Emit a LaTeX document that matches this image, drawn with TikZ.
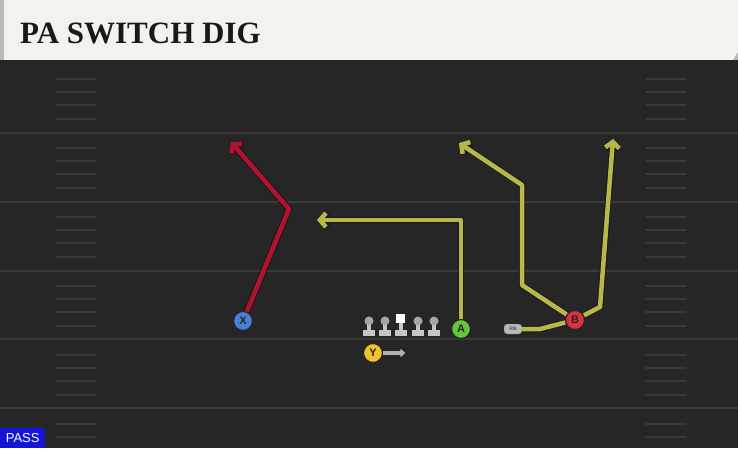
\documentclass[tikz,border=0pt]{standalone}
\usepackage{fontspec}
\usepackage{xcolor}
\usepackage{tikz}
\usetikzlibrary{arrows.meta}
\setmainfont{Liberation Sans}
\newfontfamily\titlefont{Liberation Serif}
\definecolor{field}{HTML}{262626}
\definecolor{header}{HTML}{F4F2EC}
\definecolor{yardline}{HTML}{3A3A3A}
\definecolor{routeyel}{HTML}{B8B84A}
\definecolor{routered}{HTML}{B3122E}
\definecolor{xblue}{HTML}{4A7FD6}
\definecolor{agreen}{HTML}{62C63C}
\definecolor{bred}{HTML}{DB3041}
\definecolor{yyel}{HTML}{F2C22E}
\definecolor{passblue}{HTML}{1414D6}

\begin{document}
\begin{tikzpicture}[x=1pt,y=-1pt,
  player/.style={circle,draw=black!85,line width=1.2pt,minimum size=19pt,inner sep=0pt,
    font=\bfseries\fontsize{11}{11}\selectfont,text=black!85},
  route/.style={line width=4.5pt,line join=round,
    preaction={draw=black!90,line width=6.5pt},
    -{Straight Barb[length=6pt,width=14pt]}},
  yard/.style={yardline,line width=2pt},
  hash/.style={yardline,line width=1.6pt,line cap=round},
  lman/.style={fill=gray!45}]
\useasboundingbox (0,0) rectangle (738,448);
\fill[field] (0,0) rectangle (738,448);
% Header
\fill[header] (0,0) rectangle (738,60);
\fill[gray!55] (0,0) rectangle (4,60);
\fill[gray!55] (733,60) -- (738,52) -- (738,60) -- cycle;
\fill[black!85] (0,60) rectangle (738,64);
\node[anchor=base west,inner sep=0pt,font=\titlefont\bfseries\fontsize{31}{31}\selectfont,black!90]
  (title) at (20,43) {PA SWITCH DIG};
% Yard lines
\foreach \y in {133,202,271,339,408}
  \draw[yard] (0,\y) -- (738,\y);
% Hash marks
\foreach \l in {64,133,202,271,340,409}
  \foreach \d in {15,28,41,55} {
    \draw[hash] (56,\l+\d) -- (96,\l+\d);
    \draw[hash] (646,\l+\d) -- (686,\l+\d);
  }
% Offensive line
\foreach \x in {369,385,418,434} {
  \fill[lman] (\x-6,330) rectangle (\x+6,336);
  \fill[lman] (\x-2,323) rectangle (\x+2,331);
  \fill[gray!70] (\x,321) circle (4.5);
}
\fill[lman] (395,330) rectangle (407,336);
\fill[lman] (399,322) rectangle (403,331);
\fill[white] (396,314) rectangle (405,323);
% Players
\node[player,fill=xblue] (x) at (243,321) {X};
\node[player,fill=agreen] (a) at (461,329) {A};
\node[player,fill=bred] (b) at (575,320) {B};
\node[player,fill=yyel] (y) at (373,353) {Y};
\node[fill=gray!55,draw=black!70,rounded corners=3pt,minimum width=18pt,minimum height=10pt,
  inner sep=0pt,font=\bfseries\fontsize{5}{5}\selectfont,text=black!70] (rb) at (513,329) {RB};
% Route points
\coordinate (x1) at (289,209);
\coordinate (xend) at (231,142);
\coordinate (a1) at (461,220);
\coordinate (aend) at (317,220);
\coordinate (b1) at (522,285);
\coordinate (b2) at (522,185);
\coordinate (bend) at (459,143);
\coordinate (rb1) at (540,329);
\coordinate (rb2) at (600,307);
\coordinate (rbend) at (613,139);
\coordinate (yend) at (405,353);
% Routes
\draw[route,routered] (x) -- (x1) -- (xend);
\draw[route,routeyel] (a) -- (a1) -- (aend);
\draw[route,routeyel] (b) -- (b1) -- (b2) -- (bend);
\draw[routeyel,line width=4.5pt,line join=round,preaction={draw=black!90,line width=6.5pt}]
  (rb) -- (rb1) -- (b);
\draw[route,routeyel] (b) -- (rb2) -- (rbend);
% Block
\draw[gray!60,line width=4pt,-{Triangle[round,length=5pt,width=9pt]}] (y) -- (yend);
% Play type
\node[fill=passblue,text=white,anchor=south west,minimum width=45pt,minimum height=20pt,
  inner sep=0pt,font=\fontsize{13}{13}\selectfont] (pass) at (0,448) {PASS};
\end{tikzpicture}
\end{document}
